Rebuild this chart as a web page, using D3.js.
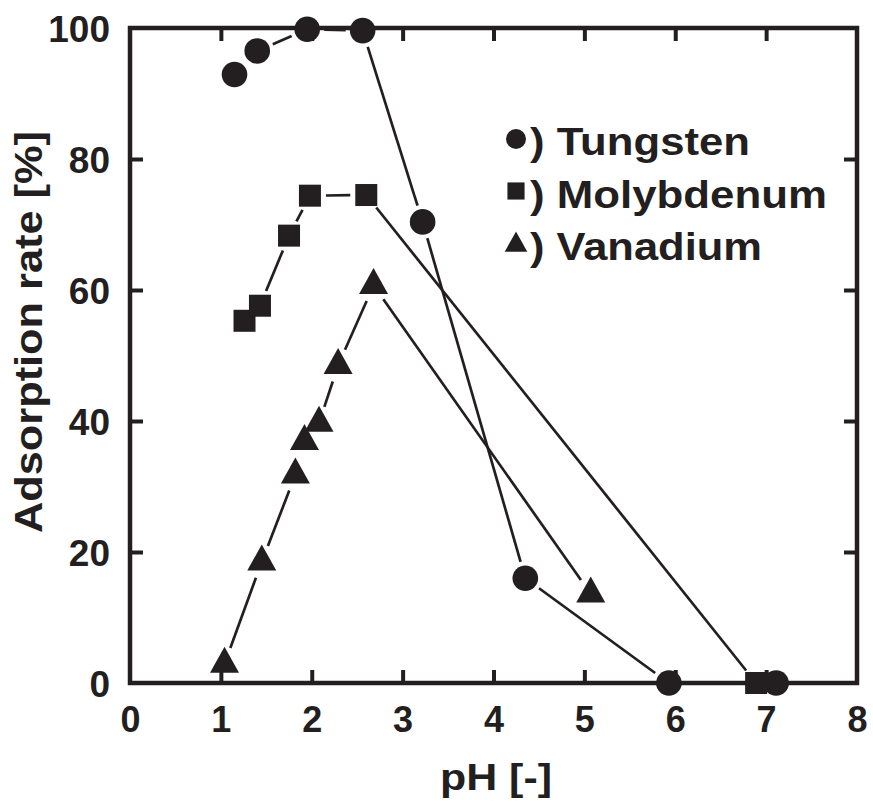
<!DOCTYPE html>
<html>
<head>
<meta charset="utf-8">
<script src="https://cdn.jsdelivr.net/npm/d3@7"></script>
<style>
  html, body { margin: 0; padding: 0; background: #fff; }
  svg { display: block; }
  text { font-family: "Liberation Sans", Arial, Helvetica, sans-serif; font-weight: bold; fill: #231f20; }
</style>
</head>
<body>
<svg id="chart" width="873" height="808"></svg>
<script>
// ---- data ----
const tungstenPH   = [1.15, 1.40, 1.95, 2.56, 3.22, 4.35, 5.93, 7.11];
const tungstenRate = [92.9, 96.5, 99.8, 99.6, 70.4, 16.0, 0, 0];
const molyPH       = [1.26, 1.43, 1.75, 1.98, 2.60, 6.89];
const molyRate     = [55.3, 57.6, 68.3, 74.4, 74.5, 0];
const vanadPH      = [1.04, 1.45, 1.82, 1.92, 2.08, 2.29, 2.68, 5.07];
const vanadRate    = [2.9, 18.5, 31.8, 36.9, 39.7, 48.5, 60.7, 13.6];
const xTicks = [0, 1, 2, 3, 4, 5, 6, 7, 8];
const yTicks = [0, 20, 40, 60, 80, 100];
const legendLabels = [") Tungsten", ") Molybdenum", ") Vanadium"];
const xTitle = "pH [-]";
const yTitle = "Adsorption rate [%]";

const ink = "#231f20";
const svg = d3.select("#chart");
const L = 130, R = 857, T = 28, B = 683;
const x = d3.scaleLinear().domain([0, 8]).range([L, R]);
const y = d3.scaleLinear().domain([0, 100]).range([B, T]);

// ---- axes (inward ticks on all four sides) ----
const tk = 13;
const gB = svg.append("g").attr("transform", `translate(0,${B})`)
  .call(d3.axisBottom(x).tickValues(xTicks).tickSizeInner(-tk).tickSizeOuter(0).tickFormat(d3.format("d")));
const gT = svg.append("g").attr("transform", `translate(0,${T})`)
  .call(d3.axisTop(x).tickValues(xTicks.slice(1, -1)).tickSizeInner(-tk).tickSizeOuter(0).tickFormat(""));
const gL = svg.append("g").attr("transform", `translate(${L},0)`)
  .call(d3.axisLeft(y).tickValues(yTicks).tickSizeInner(-tk).tickSizeOuter(0).tickFormat(d3.format("d")));
const gR = svg.append("g").attr("transform", `translate(${R},0)`)
  .call(d3.axisRight(y).tickValues(yTicks.slice(1, -1)).tickSizeInner(-tk).tickSizeOuter(0).tickFormat(""));
[gB, gT, gL, gR].forEach(g => {
  g.select(".domain").remove();
  g.selectAll(".tick line").attr("stroke", ink).attr("stroke-width", 4);
});
gB.selectAll(".tick text").attr("y", 49).attr("dy", 0)
  .attr("font-size", 36).attr("fill", ink).attr("font-family", null);
gL.selectAll(".tick text").attr("x", -20).attr("dy", "0.36em")
  .attr("font-size", 37).attr("fill", ink).attr("font-family", null);
gB.selectAll(".tick").filter(d => d === 0 || d === 8).select("line").remove();
gL.selectAll(".tick").filter(d => d === 0 || d === 100).select("line").remove();

// frame
svg.append("rect").attr("x", L).attr("y", T).attr("width", R - L).attr("height", B - T)
  .attr("fill", "none").attr("stroke", ink).attr("stroke-width", 4.5);

// ---- titles ----
svg.append("text").attr("x", 440).attr("y", 790).attr("font-size", 37)
  .attr("textLength", 112).attr("lengthAdjust", "spacingAndGlyphs").text(xTitle);
svg.append("text").attr("transform", "translate(42,533) rotate(-90)")
  .attr("font-size", 38).attr("textLength", 402).attr("lengthAdjust", "spacingAndGlyphs").text(yTitle);

// ---- markers ----
const triPath = "M-14.5,8.7L14.5,8.7L0,-17.3Z";
const series = [
  { ph: tungstenPH, rate: tungstenRate, type: "circle", trim: 17 },
  { ph: molyPH, rate: molyRate, type: "square", trim: 16 },
  { ph: vanadPH, rate: vanadRate, type: "triangle", trim: 17 }
];
function drawMarker(g, type, cx, cy, s) {
  if (type === "circle") g.append("circle").attr("cx", cx).attr("cy", cy).attr("r", 12.8 * s).attr("fill", ink);
  else if (type === "square") g.append("rect").attr("x", cx - 11 * s).attr("y", cy - 11 * s)
    .attr("width", 22 * s).attr("height", 22 * s).attr("fill", ink);
  else g.append("path").attr("d", triPath).attr("transform", `translate(${cx},${cy}) scale(${s})`).attr("fill", ink);
}

const gLines = svg.append("g");
const gMarks = svg.append("g");
series.forEach(sr => {
  const pts = sr.ph.map((p, i) => [x(p), y(sr.rate[i])]);
  for (let i = 0; i < pts.length - 1; i++) {
    const [x1, y1] = pts[i], [x2, y2] = pts[i + 1];
    const dx = x2 - x1, dy = y2 - y1, d = Math.hypot(dx, dy);
    if (d <= 2 * sr.trim + 2) continue;
    const ux = dx / d, uy = dy / d;
    gLines.append("line")
      .attr("x1", x1 + ux * sr.trim).attr("y1", y1 + uy * sr.trim)
      .attr("x2", x2 - ux * sr.trim).attr("y2", y2 - uy * sr.trim)
      .attr("stroke", ink).attr("stroke-width", 2.7);
  }
  pts.forEach(([px, py]) => drawMarker(gMarks, sr.type, px, py, 1));
});

// ---- legend ----
const lg = svg.append("g");
const legLens = [220, 297, 232];
const legBase = [155, 208, 260];
const legMarkY = [139, 191, 245];
series.forEach((sr, i) => {
  drawMarker(lg, sr.type, 516, legMarkY[i], 0.78);
  lg.append("text").attr("x", 530).attr("y", legBase[i]).attr("font-size", 39)
    .attr("textLength", legLens[i]).attr("lengthAdjust", "spacingAndGlyphs").text(legendLabels[i]);
});
</script>
</body>
</html>
